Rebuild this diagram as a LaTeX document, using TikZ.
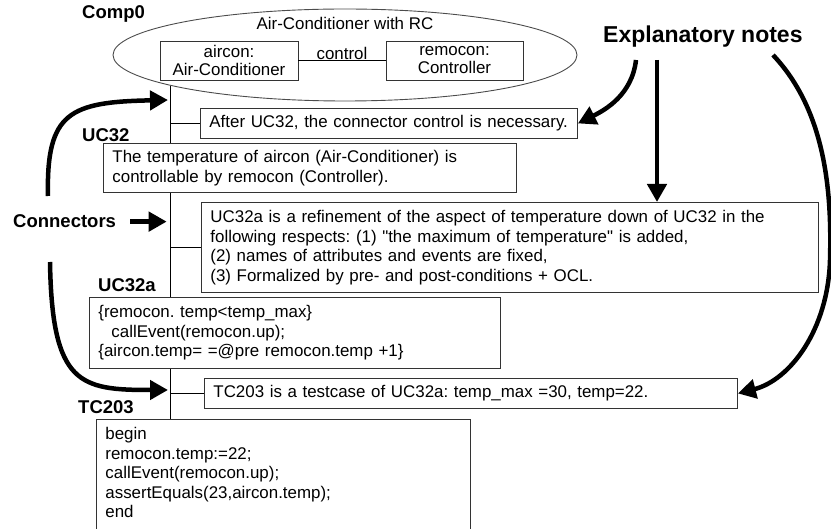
\documentclass[tikz,border=0pt]{standalone}
\usepackage{fontspec}
\setmainfont{Liberation Sans}
\usetikzlibrary{shapes.geometric}
\usetikzlibrary{arrows.meta}
\frenchspacing
\tikzset{every node/.style={font=\fontsize{16.9pt}{19.5pt}\selectfont}, % Default text size
box/.style={ % Text boxes hanging off the spine
draw=black!80,
line width=0.9pt,
anchor=north west,
align=left,
inner xsep=9pt,
inner ysep=4pt},
part/.style={ % Parts inside the component
draw=black!80,
line width=0.9pt,
align=center,
inner sep=1pt,
font=\fontsize{16.9pt}{18pt}\selectfont},
tag/.style={ % Bold names of the elements
anchor=base west,
inner sep=0pt,
font=\bfseries\fontsize{18.5pt}{20pt}\selectfont},
link/.style={draw=black, line width=0.9pt},
bigarrow/.style={ % Thick pointers of the notes
line width=4.5pt,
-{Triangle[length=18pt,width=19pt]}}}

\begin{document}
\begin{tikzpicture}[x=1pt,y=-1pt]
\useasboundingbox (0,0) rectangle (831,529);
\clip (0,0) rectangle (831,529);
% component
\node[draw=black!70, line width=0.9pt, ellipse, minimum width=464pt, minimum height=92pt, inner sep=0pt] (comp0) at (345,55) {};
\node (rc) at (345,23) {Air-Conditioner with RC};
\node[part, minimum width=138pt, minimum height=39pt] (aircon) at (229,60.5) {aircon:\\Air-Conditioner};
\node[part, minimum width=137pt, minimum height=39pt] (remocon) at (454.5,60.5) {remocon:\\Controller};
\draw[link] (aircon) -- node[above, inner xsep=1pt, inner ysep=0.5pt] {control} (remocon);
% boxes
\node[box, text width=359pt, minimum height=30pt] (n1) at (200,108) {After UC32, the connector control is necessary.};
\node[box, text width=395pt, minimum height=49pt] (uc32) at (103,143) {The temperature of aircon (Air-Conditioner) is\\controllable by remocon (Controller).};
\node[box, text width=599pt, minimum height=90pt] (n2) at (201,202) {UC32a is a refinement of the aspect of temperature down of UC32 in the\\following respects: (1) \textquotedbl the maximum of temperature\textquotedbl{} is added,\\(2) names of attributes and events are fixed,\\(3) Formalized by pre- and post-conditions + OCL.};
\node[box, text width=393pt, minimum height=71pt] (uc32a) at (89,297) {\{remocon. temp<temp\_max\}\\\hspace*{13pt}callEvent(remocon.up);\\\{aircon.temp= =@pre remocon.temp +1\}};
\node[box, text width=515pt, minimum height=30pt] (n3) at (204,378) {TC203 is a testcase of UC32a: temp\_max =30, temp=22.};
\node[box, text width=356pt, inner ysep=8pt] (tc203) at (96,419) {begin\\remocon.temp:=22;\\callEvent(remocon.up);\\assertEquals(23,aircon.temp);\\end\\\rule{0pt}{30pt}};
% names
\node[tag] (comp0tag) at (82,19) {Comp0};
\node[tag] (uc32tag) at (82,142) {UC32};
\node[tag] (uc32atag) at (98,292) {UC32a};
\node[tag] (tc203tag) at (78,414) {TC203};
\node[tag] (conn) at (13,228) {Connectors};
\node[tag, font=\bfseries\fontsize{23pt}{25pt}\selectfont] (expl) at (603,43) {Explanatory notes};
% spine
\coordinate (spine) at (comp0.190);
\draw[link] (spine) -- (spine |- uc32.north)
(spine |- n1.west) -- (n1.west)
(spine |- uc32.south) -- (spine |- uc32a.north)
(spine |- n2.west) -- (n2.west)
(spine |- uc32a.south) -- (spine |- tc203.north)
(spine |- n3.west) -- (n3.west);
% pointers
\coordinate (k1s) at (48,196);
\coordinate (k1) at (168,100);
\coordinate (k3s) at (50,262);
\coordinate (k3) at (168,390);
\draw[bigarrow] (k1s) .. controls (46,112) and (70,102) .. (k1);
\draw[bigarrow, shorten >=4pt] ([xshift=14pt]conn.east) -- (spine |- conn.east);
\draw[bigarrow] (k3s) .. controls (52,385) and (80,390) .. (k3);
\coordinate (e1) at (636,60);
\coordinate (e2) at (657,60);
\coordinate (e3) at (773,55);
\draw[bigarrow] (e1) .. controls (632,95) and (605,110) .. (n1.east);
\draw[bigarrow] (e2) -- (e2 |- n2.north);
\draw[bigarrow] (e3) .. controls (825,110) and (832,190) .. (830,260) .. controls (828,330) and (790,380) .. (n3.east);
\end{tikzpicture}
\end{document}
